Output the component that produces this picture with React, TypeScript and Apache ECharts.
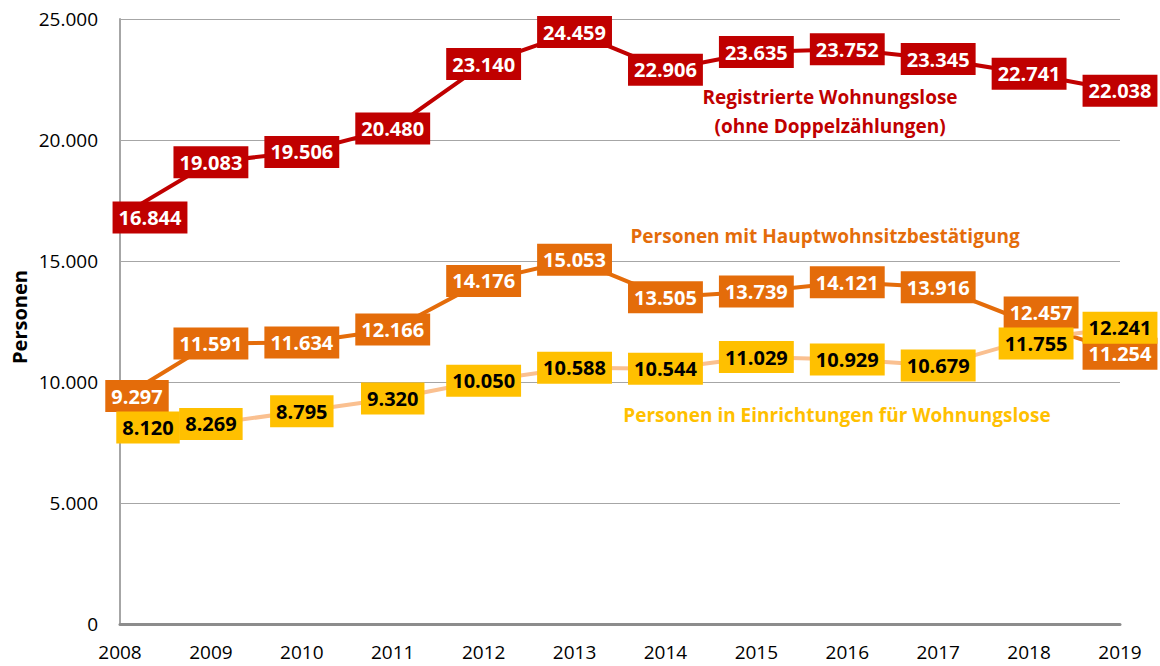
import React, { useEffect, useRef } from "react";
import * as echarts from "echarts";

const years = ["2008", "2009", "2010", "2011", "2012", "2013", "2014", "2015", "2016", "2017", "2018", "2019"];
const registrierte = [16844, 19083, 19506, 20480, 23140, 24459, 22906, 23635, 23752, 23345, 22741, 22038];
const hauptwohnsitz = [9297, 11591, 11634, 12166, 14176, 15053, 13505, 13739, 14121, 13916, 12457, 11254];
const einrichtungen = [8120, 8269, 8795, 9320, 10050, 10588, 10544, 11029, 10929, 10679, 11755, 12241];

const seriesNames = [
  "Registrierte Wohnungslose\n(ohne Doppelzählungen)",
  "Personen mit Hauptwohnsitzbestätigung",
  "Personen in Einrichtungen für Wohnungslose",
];
const yTitle = "Personen";

// label nudges (pixels), styling only
const nudgesRed: Record<number, [number, number]> = { 0: [30, 1] };
const nudgesOrange: Record<number, [number, number]> = { 0: [17, -3], 10: [12, -10], 11: [0, 2] };
const nudgesYellow: Record<number, [number, number]> = { 0: [28, 0], 10: [7, 4] };

const FONT = '"Open Sans", "Noto Sans", sans-serif';
const RED = "#C00000";
const ORANGE = "#E46C0A";
const YELLOW = "#FFC000";
const PEACH = "#FAC090";

const fmt = (v: number) => String(v).replace(/\B(?=(\d{3})+(?!\d))/g, ".");

function buildData(values: number[], nudges: Record<number, [number, number]>) {
  return values.map((v, i) =>
    nudges[i] ? { value: v, label: { offset: nudges[i] } } : { value: v }
  );
}

function lineSeries(
  name: string,
  values: number[],
  nudges: Record<number, [number, number]>,
  lineColor: string,
  boxColor: string,
  textColor: string,
  z: number
) {
  return {
    name,
    type: "line",
    z,
    data: buildData(values, nudges),
    symbol: "circle",
    symbolSize: 1,
    itemStyle: { color: lineColor },
    lineStyle: { color: lineColor, width: 4 },
    label: {
      show: true,
      position: "inside",
      formatter: (p: any) => fmt(p.value),
      backgroundColor: boxColor,
      color: textColor,
      fontFamily: FONT,
      fontWeight: "bold",
      fontSize: 20,
      lineHeight: 24,
      padding: [4, 6, 4, 6],
    },
  };
}

export default function App() {
  const ref = useRef<HTMLDivElement>(null);
  useEffect(() => {
    if (!ref.current) return;
    const chart = echarts.init(ref.current, null, { renderer: "svg" });
    chart.setOption({
      animation: false,
      backgroundColor: "#ffffff",
      grid: { left: 120, right: 40, top: 19, bottom: 42, containLabel: false },
      xAxis: {
        type: "category",
        data: years,
        boundaryGap: false,
        axisTick: { show: false },
        axisLine: { show: true, lineStyle: { color: "#8C8C8C", width: 3 } },
        axisLabel: { color: "#000", fontFamily: FONT, fontSize: 19, margin: 18 },
        splitLine: { show: false },
      },
      yAxis: {
        type: "value",
        min: 0,
        max: 25000,
        interval: 5000,
        axisTick: { show: false },
        axisLine: { show: true, lineStyle: { color: "#A6A6A6", width: 2 } },
        axisLabel: {
          color: "#000",
          fontFamily: FONT,
          fontSize: 19,
          margin: 22,
          formatter: (v: number) => fmt(v),
        },
        splitLine: { show: true, lineStyle: { color: "#A6A6A6", width: 1 } },
      },
      graphic: [
        {
          type: "text",
          x: 19,
          y: 317,
          rotation: Math.PI / 2,
          style: {
            text: yTitle,
            font: `bold 20px ${FONT}`,
            fill: "#000",
            align: "center",
            verticalAlign: "middle",
          },
        },
        {
          type: "text",
          x: 830,
          y: 111,
          style: {
            text: seriesNames[0],
            font: `bold 19px ${FONT}`,
            lineHeight: 29,
            fill: RED,
            align: "center",
            verticalAlign: "middle",
          },
        },
        {
          type: "text",
          x: 825,
          y: 236,
          style: {
            text: seriesNames[1],
            font: `bold 19px ${FONT}`,
            fill: ORANGE,
            align: "center",
            verticalAlign: "middle",
          },
        },
        {
          type: "text",
          x: 837,
          y: 415,
          style: {
            text: seriesNames[2],
            font: `bold 19px ${FONT}`,
            fill: YELLOW,
            align: "center",
            verticalAlign: "middle",
          },
        },
      ],
      series: [
        lineSeries(seriesNames[0], registrierte, nudgesRed, RED, RED, "#ffffff", 2),
        lineSeries(seriesNames[1], hauptwohnsitz, nudgesOrange, ORANGE, ORANGE, "#ffffff", 3),
        lineSeries(seriesNames[2], einrichtungen, nudgesYellow, PEACH, YELLOW, "#000000", 4),
      ],
    });
    return () => chart.dispose();
  }, []);
  return (
    <div
      ref={ref}
      style={{ position: "fixed", left: 0, top: 0, width: 1160, height: 666 }}
    />
  );
}
